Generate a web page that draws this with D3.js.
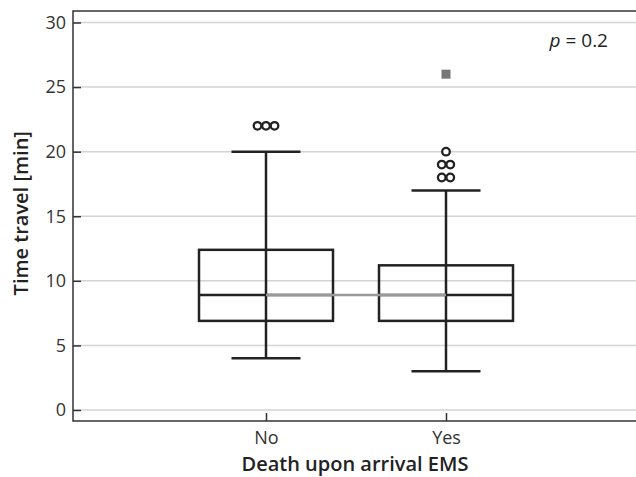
<!DOCTYPE html>
<html>
<head>
<meta charset="utf-8">
<script src="https://cdn.jsdelivr.net/npm/d3@7"></script>
<style>
  html, body { margin: 0; padding: 0; background: #fff; }
  svg { display: block; font-family: "Open Sans", sans-serif; }
</style>
</head>
<body>
<svg id="chart" width="636" height="477"></svg>
<script>
// Box plot summaries
const categories = ['No', 'Yes'];
const whiskerLow = [4, 3];
const q1 = [6.9, 6.9];
const median = [8.9, 8.9];
const q3 = [12.4, 11.2];
const whiskerHigh = [20, 17];
const outliersNo = [22, 22, 22];
const outliersYes = [20, 19, 19, 18, 18];
const extremesYes = [26];
const yTicks = [0, 5, 10, 15, 20, 25, 30];

const svg = d3.select('#chart');
const W = 636, H = 477;
const plotLeft = 73, plotTop = 11, plotBottom = 421;

const x = d3.scalePoint().domain(categories).range([86, 626]).padding(1);
const y = d3.scaleLinear().domain([0, 30]).range([410, 22.5]);

const ink = '#222';
const boxW = 134, capW = 69;

// gridlines
svg.append('g')
  .selectAll('line')
  .data(yTicks)
  .enter()
  .append('line')
  .attr('x1', plotLeft).attr('x2', W)
  .attr('y1', d => y(d)).attr('y2', d => y(d))
  .attr('stroke', '#d4d4d4')
  .attr('stroke-width', 1.5);

// frame (left, top, bottom)
svg.append('path')
  .attr('d', `M${W},${plotTop}H${plotLeft}V${plotBottom}H${W}`)
  .attr('fill', 'none')
  .attr('stroke', '#333')
  .attr('stroke-width', 1.5);

// y axis: inward ticks, labels on the left
const yAxis = svg.append('g')
  .attr('transform', `translate(${plotLeft},0)`)
  .call(d3.axisRight(y).tickValues(yTicks).tickSize(8).tickFormat(d3.format('d')));
yAxis.select('.domain').remove();
yAxis.selectAll('.tick line').attr('stroke', '#333').attr('stroke-width', 1.5);
yAxis.selectAll('.tick text')
  .attr('x', -7)
  .attr('text-anchor', 'end')
  .attr('font-size', 18)
  .attr('font-family', '"Open Sans", sans-serif')
  .attr('fill', '#333');

// x axis: inward ticks, labels below
const xAxis = svg.append('g')
  .attr('transform', `translate(0,${plotBottom})`)
  .call(d3.axisTop(x).tickSize(8));
xAxis.select('.domain').remove();
xAxis.selectAll('.tick line').attr('stroke', '#333').attr('stroke-width', 1.5);
xAxis.selectAll('.tick text')
  .attr('y', 23)
  .attr('dy', 0)
  .attr('font-size', 18)
  .attr('font-family', '"Open Sans", sans-serif')
  .attr('fill', '#333');

// axis titles
svg.append('text')
  .attr('x', 355)
  .attr('y', 471)
  .attr('text-anchor', 'middle')
  .attr('font-size', 20)
  .attr('font-weight', 600)
  .attr('fill', '#222')
  .text('Death upon arrival EMS');

svg.append('text')
  .attr('transform', `translate(28,${y(15) - 3}) rotate(-90)`)
  .attr('text-anchor', 'middle')
  .attr('font-size', 20)
  .attr('font-weight', 600)
  .attr('fill', '#222')
  .text('Time travel [min]');

// boxes
const groups = categories.map((c, i) => ({
  cat: c, lo: whiskerLow[i], q1: q1[i], med: median[i], q3: q3[i], hi: whiskerHigh[i]
}));

const box = svg.append('g')
  .selectAll('g')
  .data(groups)
  .enter()
  .append('g');

box.append('rect')
  .attr('x', d => x(d.cat) - boxW / 2)
  .attr('width', boxW)
  .attr('y', d => y(d.q3))
  .attr('height', d => y(d.q1) - y(d.q3))
  .attr('fill', 'none')
  .attr('stroke', ink)
  .attr('stroke-width', 2.5);

box.append('line')
  .attr('x1', d => x(d.cat)).attr('x2', d => x(d.cat))
  .attr('y1', d => y(d.lo)).attr('y2', d => y(d.hi))
  .attr('stroke', ink).attr('stroke-width', 2.5);

['lo', 'hi'].forEach(k => {
  box.append('line')
    .attr('x1', d => x(d.cat) - capW / 2).attr('x2', d => x(d.cat) + capW / 2)
    .attr('y1', d => y(d[k])).attr('y2', d => y(d[k]))
    .attr('stroke', ink).attr('stroke-width', 2.5);
});

box.append('line')
  .attr('x1', d => x(d.cat) - boxW / 2).attr('x2', d => x(d.cat) + boxW / 2)
  .attr('y1', d => y(d.med)).attr('y2', d => y(d.med))
  .attr('stroke', ink).attr('stroke-width', 2.5);

// line joining the medians
svg.append('path')
  .datum(groups)
  .attr('d', d3.line().x(d => x(d.cat)).y(d => y(d.med)))
  .attr('fill', 'none')
  .attr('stroke', '#999')
  .attr('stroke-width', 2.5);

// outliers: spread equal values side by side
function spread(cat, values) {
  const counts = d3.rollup(values, v => v.length, v => v);
  const seen = new Map();
  return values.map(v => {
    const n = counts.get(v);
    const k = seen.get(v) || 0;
    seen.set(v, k + 1);
    return { cx: x(cat) + (k - (n - 1) / 2) * 8.5, v };
  });
}

const outPts = spread('No', outliersNo).concat(spread('Yes', outliersYes));
svg.append('g')
  .selectAll('circle')
  .data(outPts)
  .enter()
  .append('circle')
  .attr('cx', d => d.cx)
  .attr('cy', d => y(d.v))
  .attr('r', 3.8)
  .attr('fill', '#fff')
  .attr('stroke', ink)
  .attr('stroke-width', 2.3);

svg.append('g')
  .selectAll('rect')
  .data(extremesYes)
  .enter()
  .append('rect')
  .attr('x', x('Yes') - 4.5)
  .attr('y', d => y(d) - 4.5)
  .attr('width', 9).attr('height', 9)
  .attr('fill', '#777');

// p-value
const pText = svg.append('text')
  .attr('x', 608)
  .attr('y', 47)
  .attr('text-anchor', 'end')
  .attr('font-size', 19)
  .attr('fill', '#222');
pText.append('tspan').attr('font-style', 'italic').text('p');
pText.append('tspan').text(' = 0.2');
</script>
</body>
</html>
